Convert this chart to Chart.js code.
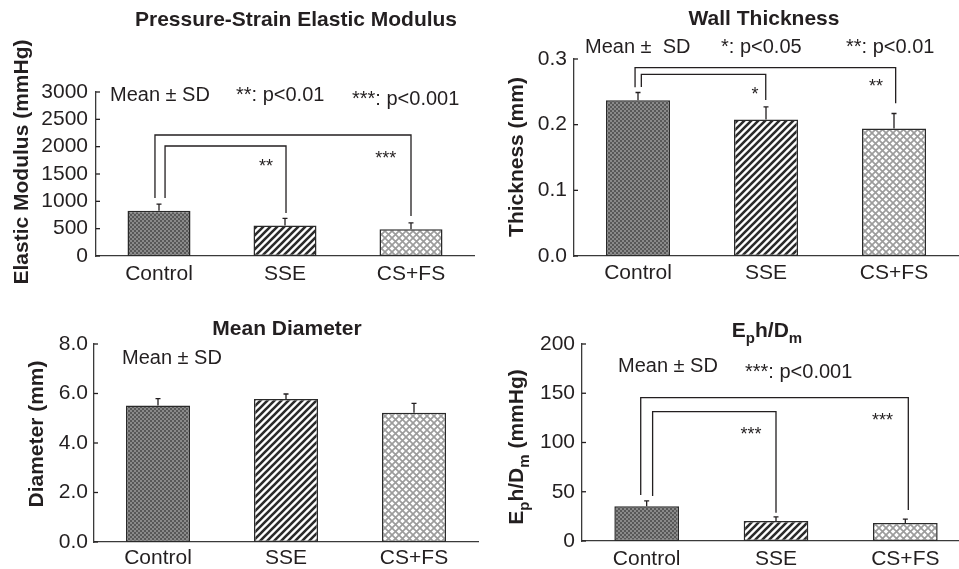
<!DOCTYPE html>
<html>
<head>
<meta charset="utf-8">
<script src="https://cdn.jsdelivr.net/npm/chart.js@4"></script>
<style>
    html, body { margin: 0; padding: 0; background: #fff; overflow: hidden; width: 959px; height: 569px; position: relative; }
    canvas { position: absolute; }
</style>
</head>
<body>
<canvas id="modulusChart" width="480" height="290" style="left:0;top:0"></canvas>
<canvas id="thicknessChart" width="479" height="290" style="left:480px;top:0"></canvas>
<canvas id="diameterChart" width="480" height="279" style="left:0;top:290px"></canvas>
<canvas id="ratioChart" width="495" height="279" style="left:480px;top:290px"></canvas>
<script>
const categories = ['Control', 'SSE', 'CS+FS'];

const modulusMean  = [830, 560, 490];
const modulusSD    = [120, 130, 115];
const modulusTicks = [0, 500, 1000, 1500, 2000, 2500, 3000];

const thicknessMean  = [0.237, 0.208, 0.194];
const thicknessSD    = [0.012, 0.019, 0.023];
const thicknessTicks = [0, 0.1, 0.2, 0.3];

const diameterMean  = [5.52, 5.78, 5.22];
const diameterSD    = [0.27, 0.20, 0.38];
const diameterTicks = [0, 2, 4, 6, 8];

const ratioMean  = [35.3, 20.4, 18.3];
const ratioSD    = [5.4, 4.0, 4.0];
const ratioTicks = [0, 50, 100, 150, 200];

const ink = '#231f20';
const family = '"Liberation Sans", Arial, Helvetica, sans-serif';
Chart.defaults.font.family = family;
Chart.defaults.color = ink;

// bar fills: fine dark checker, diagonal stripes, light crosshatch
function tile(size, paint) {
    const c = document.createElement('canvas');
    c.width = c.height = size;
    const g = c.getContext('2d');
    paint(g, size);
    return g.createPattern(c, 'repeat');
}

const fills = [
    tile(4, (g) => {
        g.fillStyle = '#8a8a8a'; g.fillRect(0, 0, 4, 4);
        g.fillStyle = '#585858'; g.fillRect(0, 0, 2, 2); g.fillRect(2, 2, 2, 2);
    }),
    tile(7, (g, s) => {
        g.fillStyle = '#fff'; g.fillRect(0, 0, s, s);
        g.strokeStyle = '#2b2b2b'; g.lineWidth = 2.6;
        g.beginPath();
        g.moveTo(-1, s + 1); g.lineTo(s + 1, -1);
        g.moveTo(-1, 1); g.lineTo(1, -1);
        g.moveTo(s - 1, s + 1); g.lineTo(s + 1, s - 1);
        g.stroke();
    }),
    tile(7, (g, s) => {
        g.fillStyle = '#fff'; g.fillRect(0, 0, s, s);
        g.strokeStyle = '#9c9c9c'; g.lineWidth = 1.7;
        g.beginPath();
        g.moveTo(-1, s + 1); g.lineTo(s + 1, -1);
        g.moveTo(-1, -1); g.lineTo(s + 1, s + 1);
        g.stroke();
    }),
];

// text with "_x" marking a one-letter subscript
function drawRich(ctx, s, x, y, size, bold, align) {
    const runs = [];
    for (let i = 0; i < s.length; i++) {
        if (s[i] === '_') { runs.push({ t: s[i + 1], sub: true }); i++; }
        else if (runs.length && !runs[runs.length - 1].sub) runs[runs.length - 1].t += s[i];
        else runs.push({ t: s[i], sub: false });
    }
    const fontOf = (r) => `${bold ? 'bold ' : ''}${r.sub ? Math.round(size * 0.7) : size}px ${family}`;
    let w = 0;
    runs.forEach((r) => { ctx.font = fontOf(r); r.w = ctx.measureText(r.t).width; w += r.w; });
    let cx = align === 'center' ? x - w / 2 : x;
    ctx.textAlign = 'left';
    ctx.textBaseline = 'alphabetic';
    runs.forEach((r) => {
        ctx.font = fontOf(r);
        ctx.fillText(r.t, cx, y + (r.sub ? size * 0.28 : 0));
        cx += r.w;
    });
}

function decor(cfg) {
    return {
        id: 'decor',
        afterDraw(chart) {
            const { ctx, chartArea } = chart;
            const { x, y } = chart.scales;
            ctx.save();
            ctx.strokeStyle = ink;
            ctx.fillStyle = ink;
            ctx.lineWidth = 1.3;

            // inward tick marks
            y.ticks.forEach((t) => {
                const py = y.getPixelForValue(t.value);
                ctx.beginPath();
                ctx.moveTo(chartArea.left, py);
                ctx.lineTo(chartArea.left + 4, py);
                ctx.stroke();
            });

            // SD whiskers
            chart.getDatasetMeta(0).data.forEach((bar, i) => {
                const top = y.getPixelForValue(cfg.means[i] + cfg.sds[i]);
                ctx.beginPath();
                ctx.moveTo(bar.x, bar.y);
                ctx.lineTo(bar.x, top);
                ctx.moveTo(bar.x - 2.5, top);
                ctx.lineTo(bar.x + 2.5, top);
                ctx.stroke();
            });

            // significance brackets
            (cfg.brackets || []).forEach((b) => {
                const top = y.getPixelForValue(b.top);
                ctx.beginPath();
                ctx.moveTo(x.getPixelForValue(b.x1), y.getPixelForValue(b.y1));
                ctx.lineTo(x.getPixelForValue(b.x1), top);
                ctx.lineTo(x.getPixelForValue(b.x2), top);
                ctx.lineTo(x.getPixelForValue(b.x2), y.getPixelForValue(b.y2));
                ctx.stroke();
            });
            ctx.font = `18px ${family}`;
            ctx.textAlign = 'center';
            ctx.textBaseline = 'alphabetic';
            (cfg.stars || []).forEach((s) => {
                ctx.fillText(s.text, x.getPixelForValue(s.x), y.getPixelForValue(s.y) + 10.4);
            });

            drawRich(ctx, cfg.title, cfg.titleX, cfg.titleY, 21, true, 'center');
            ctx.save();
            ctx.translate(cfg.yTitleX, cfg.yTitleY);
            ctx.rotate(-Math.PI / 2);
            drawRich(ctx, cfg.yTitle, 0, 0, 21, true, 'center');
            ctx.restore();
            cfg.notes.forEach((n) => drawRich(ctx, n.text, n.x, n.y, 20, false, 'left'));
            ctx.restore();
        },
    };
}

function makeChart(id, cfg) {
    const canvas = document.getElementById(id);
    const a = cfg.area;
    return new Chart(canvas, {
        type: 'bar',
        data: {
            labels: categories,
            datasets: [{
                data: cfg.means,
                backgroundColor: fills,
                borderColor: '#2a2a2a',
                borderWidth: 1.5,
                borderSkipped: false,
                barPercentage: 0.5,
                categoryPercentage: 1,
            }],
        },
        options: {
            responsive: false,
            animation: false,
            events: [],
            layout: { padding: { left: 0, top: a.top, right: canvas.width - a.right, bottom: 0 } },
            plugins: { legend: { display: false }, title: { display: false }, tooltip: { enabled: false } },
            scales: {
                x: {
                    grid: { display: false, drawTicks: false },
                    border: { color: '#3a3a3a', width: 1.3 },
                    ticks: { font: { size: 21 }, color: ink, padding: cfg.xPad, maxRotation: 0, autoSkip: false },
                    afterFit: (s) => { s.height = canvas.height - a.bottom; },
                },
                y: {
                    min: cfg.ticks[0],
                    max: cfg.ticks[cfg.ticks.length - 1],
                    grid: { display: false, drawTicks: false },
                    border: { color: '#3a3a3a', width: 1.3 },
                    ticks: { font: { size: 21 }, color: ink, padding: cfg.yPad, callback: cfg.fmt, autoSkip: false },
                    afterBuildTicks: (s) => { s.ticks = cfg.ticks.map((v) => ({ value: v })); },
                    afterFit: (s) => { s.width = a.left; },
                },
            },
        },
        plugins: [decor(cfg)],
    });
}

makeChart('modulusChart', {
    means: modulusMean, sds: modulusSD, ticks: modulusTicks, fmt: (v) => String(v),
    area: { left: 96, right: 474, top: 92, bottom: 256 }, xPad: 6, yPad: 8,
    title: 'Pressure-Strain Elastic Modulus', titleX: 296, titleY: 26,
    yTitle: 'Elastic Modulus (mmHg)', yTitleX: 28, yTitleY: 162,
    notes: [
        { text: 'Mean \u00b1 SD', x: 110, y: 101 },
        { text: '**: p<0.01', x: 236, y: 101 },
        { text: '***: p<0.001', x: 352, y: 105 },
    ],
    brackets: [
        { x1: -0.032, x2: 2.0, top: 2213, y1: 1061, y2: 732 },
        { x1: 0.048, x2: 1.008, top: 2012, y1: 1061, y2: 787 },
    ],
    stars: [
        { text: '**', x: 0.85, y: 1720 },
        { text: '***', x: 1.80, y: 1866 },
    ],
});

makeChart('thicknessChart', {
    means: thicknessMean, sds: thicknessSD, ticks: thicknessTicks, fmt: (v) => v.toFixed(1),
    area: { left: 94, right: 478, top: 59, bottom: 256 }, xPad: 5, yPad: 7,
    title: 'Wall Thickness', titleX: 284, titleY: 25,
    yTitle: 'Thickness (mm)', yTitleX: 43, yTitleY: 157,
    notes: [
        { text: 'Mean \u00b1  SD', x: 105, y: 53 },
        { text: '*: p<0.05', x: 241, y: 53 },
        { text: '**: p<0.01', x: 366, y: 53 },
    ],
    brackets: [
        { x1: -0.023, x2: 2.013, top: 0.2868, y1: 0.2569, y2: 0.2325 },
        { x1: 0.026, x2: 0.998, top: 0.2767, y1: 0.2574, y2: 0.2376 },
    ],
    stars: [
        { text: '*', x: 0.914, y: 0.2528 },
        { text: '**', x: 1.86, y: 0.265 },
    ],
});

makeChart('diameterChart', {
    means: diameterMean, sds: diameterSD, ticks: diameterTicks, fmt: (v) => v.toFixed(1),
    area: { left: 94, right: 478, top: 54, bottom: 252 }, xPad: 4, yPad: 6,
    title: 'Mean Diameter', titleX: 287, titleY: 45,
    yTitle: 'Diameter (mm)', yTitleX: 43, yTitleY: 144,
    notes: [
        { text: 'Mean \u00b1 SD', x: 122, y: 74 },
    ],
});

makeChart('ratioChart', {
    means: ratioMean, sds: ratioSD, ticks: ratioTicks, fmt: (v) => String(v),
    area: { left: 102, right: 490, top: 54, bottom: 251 }, xPad: 6, yPad: 7,
    title: 'E_ph/D_m', titleX: 287, titleY: 47,
    yTitle: 'E_ph/D_m (mmHg)', yTitleX: 43, yTitleY: 157,
    notes: [
        { text: 'Mean \u00b1 SD', x: 138, y: 82 },
        { text: '***: p<0.001', x: 265, y: 88 },
    ],
    brackets: [
        { x1: -0.046, x2: 2.023, top: 145.5, y1: 46.7, y2: 31.5 },
        { x1: 0.046, x2: 1.0, top: 131.3, y1: 45.7, y2: 28.7 },
    ],
    stars: [
        { text: '***', x: 0.807, y: 112.7 },
        { text: '***', x: 1.824, y: 127.2 },
    ],
});
</script>
</body>
</html>
